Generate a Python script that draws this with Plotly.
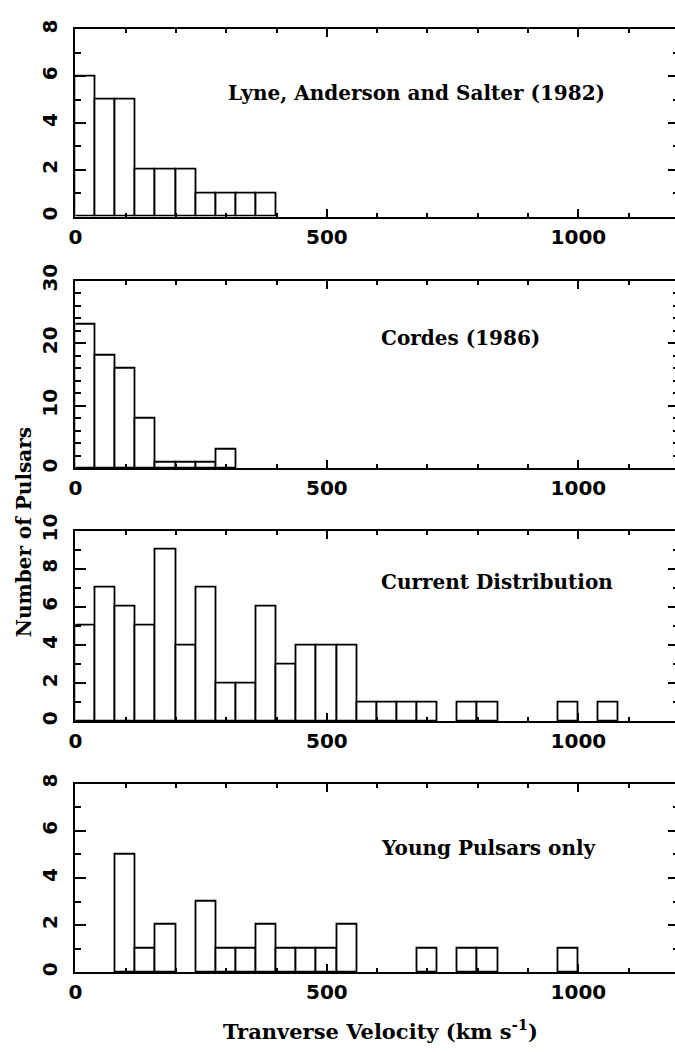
import plotly.graph_objects as go
from plotly.subplots import make_subplots

# histogram bins: 40 km/s wide, starting at 0
bin_width = 40

lyne_counts = [6, 5, 5, 2, 2, 2, 1, 1, 1, 1]
cordes_counts = [23, 18, 16, 8, 1, 1, 1, 3]
current_counts = [5, 7, 6, 5, 9, 4, 7, 2, 2, 6, 3, 4, 4, 4, 1, 1, 1, 1, 0,
                  1, 1, 0, 0, 0, 1, 0, 1]
young_counts = [0, 0, 5, 1, 2, 0, 3, 1, 1, 2, 1, 1, 1, 2, 0, 0, 0, 1, 0,
                1, 1, 0, 0, 0, 1]

panel_labels = ["Lyne, Anderson and Salter (1982)", "Cordes (1986)",
                "Current Distribution", "Young Pulsars only"]
y_max = [8, 30, 10, 8]
y_dtick = [2, 10, 2, 2]
y_minor = [1, 2, 1, 1]
x_ticks = [0, 500, 1000]

all_counts = [lyne_counts, cordes_counts, current_counts, young_counts]

W, H = 681, 1052  # a bit wider than the window so the right frame falls off the edge

fig = make_subplots(rows=4, cols=1)

for i, counts in enumerate(all_counts):
    centers = [bin_width * (k + 0.5) for k in range(len(counts))]
    vals = [c if c > 0 else None for c in counts]
    fig.add_trace(go.Bar(x=centers, y=vals, width=bin_width,
                         marker=dict(color="white", line=dict(color="black", width=1.8)),
                         showlegend=False), row=i + 1, col=1)

# panel positions (paper fractions)
domains = [[0.8064, 0.9879], [0.5621, 0.7443], [0.3168, 0.5019], [0.0735, 0.2564]]
tick_font = dict(family="DejaVu Sans", size=20, color="black", weight="bold")
label_font = dict(family="DejaVu Serif", size=20, color="black")

for i in range(4):
    fig.update_xaxes(row=i + 1, col=1, domain=[69.3 / W, 1.0], range=[0, 1200],
                     tickvals=x_ticks, ticks="inside", ticklen=8, tickwidth=1.8,
                     tickcolor="black", showline=True, linecolor="black", linewidth=2,
                     mirror="ticks", showgrid=False, zeroline=False,
                     tickfont=tick_font, ticklabelstandoff=1,
                     minor=dict(dtick=100, ticklen=4, tickwidth=1.5, ticks="inside",
                                tickcolor="black", showgrid=False))
    fig.update_yaxes(row=i + 1, col=1, domain=domains[i], range=[0, y_max[i]],
                     dtick=y_dtick[i], tick0=0, ticks="inside", ticklen=11, tickwidth=1.8,
                     tickcolor="black", showline=True, linecolor="black", linewidth=2,
                     mirror="ticks", showgrid=False, zeroline=False,
                     tickfont=tick_font, tickangle=-90, ticklabelstandoff=8,
                     minor=dict(dtick=y_minor[i], ticklen=6, tickwidth=1.5, ticks="inside",
                                tickcolor="black", showgrid=False))

label_pos = [(299, 5.3), (603, 20.9), (603, 7.28), (603, 5.27)]
for i, (lx, ly) in enumerate(label_pos):
    fig.add_annotation(x=lx, y=ly, xref="x%s" % ("" if i == 0 else i + 1),
                       yref="y%s" % ("" if i == 0 else i + 1),
                       text="<b>%s</b>" % panel_labels[i], showarrow=False,
                       xanchor="left", yanchor="middle", font=label_font)

fig.add_annotation(x=17 / W, y=1 - 526 / H, xref="paper", yref="paper",
                   text="<b>Number of Pulsars</b>", textangle=-90, showarrow=False,
                   xanchor="center", yanchor="middle", font=label_font)
fig.add_annotation(x=378 / W, y=1 - 1034 / H, xref="paper", yref="paper",
                   text="<b>Tranverse Velocity (km s<sup>-1</sup>)</b>", showarrow=False,
                   xanchor="center", yanchor="middle",
                   font=dict(family="DejaVu Serif", size=21, color="black"))

fig.update_layout(width=W, height=H, margin=dict(l=0, r=0, t=0, b=0),
                  plot_bgcolor="white", paper_bgcolor="white", bargap=0)

fig.write_html("out.html", config={"displayModeBar": False},
               post_script="document.body.style.margin='0';document.body.style.overflow='hidden';")
